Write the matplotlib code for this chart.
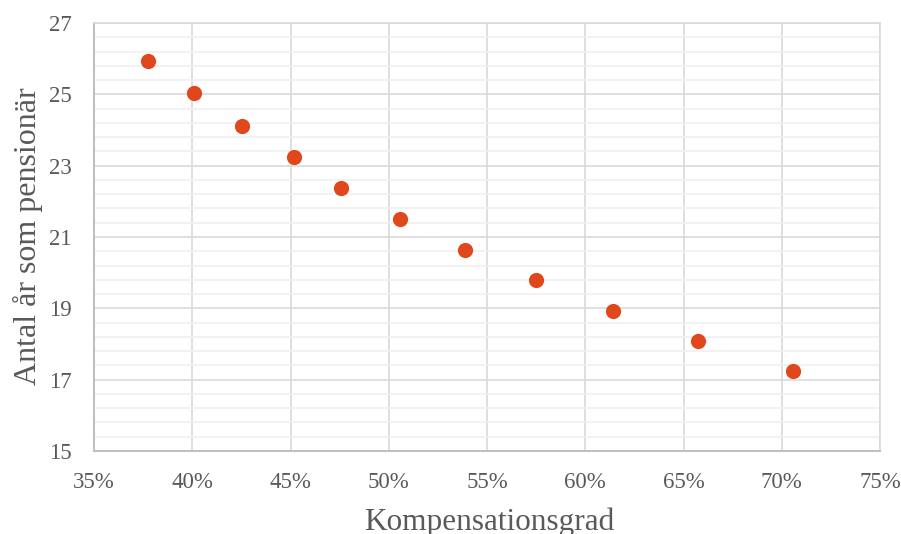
import matplotlib
matplotlib.use("Agg")
import matplotlib.pyplot as plt
import numpy as np
from matplotlib.ticker import MultipleLocator, FixedLocator, FuncFormatter

# compensation rate (%) vs years spent as a pensioner
kompensationsgrad = [37.75, 40.1, 42.55, 45.2, 47.55, 50.55, 53.9, 57.5, 61.4, 65.75, 70.55]
antal_ar = [25.93, 25.04, 24.11, 23.24, 22.37, 21.50, 20.64, 19.79, 18.93, 18.08, 17.24]

plt.rcParams["font.family"] = ["Liberation Serif", "DejaVu Serif"]
text_col = "#595959"

fig = plt.figure(figsize=(9.01, 5.34), dpi=100, facecolor="white")
ax = fig.add_axes([94 / 901, 83 / 534, 786 / 901, 428 / 534])

ax.scatter(kompensationsgrad, antal_ar, s=120, color="#E0481B", zorder=3, linewidths=0)

ax.set_xlim(35, 75)
ax.set_ylim(15, 27)
ax.xaxis.set_major_locator(MultipleLocator(5))
ax.yaxis.set_major_locator(FixedLocator(np.arange(15, 27.1, 2)))
ax.yaxis.set_minor_locator(FixedLocator(np.arange(15, 27.01, 0.4)))
ax.xaxis.set_major_formatter(FuncFormatter(lambda v, p: f"{v:.0f}%"))
ax.yaxis.set_major_formatter(FuncFormatter(lambda v, p: f"{v:.0f}"))

ax.grid(True, which="major", color="#D9D9D9", linewidth=1.2, zorder=0)
ax.grid(True, which="minor", axis="y", color="#F0F0F0", linewidth=1.2, zorder=0)
ax.set_axisbelow(True)

for side in ["top", "right"]:
    ax.spines[side].set_color("#D9D9D9")
    ax.spines[side].set_linewidth(1.2)
for side in ["left", "bottom"]:
    ax.spines[side].set_color("#BFBFBF")
    ax.spines[side].set_linewidth(1.4)

ax.tick_params(which="both", length=0, labelsize=16.5, labelcolor=text_col)
ax.tick_params(axis="x", pad=15)
ax.tick_params(axis="y", pad=16)

fig.text(489 / 901, 1 - 530 / 534, "Kompensationsgrad", ha="center", va="baseline",
         fontsize=22.5, color=text_col)
fig.text(28 / 901, 1 - 236 / 534, "Antal år som pensionär", ha="center", va="center",
         rotation=90, fontsize=23, color=text_col)

fig.savefig("out.png", dpi=100, facecolor="white")
